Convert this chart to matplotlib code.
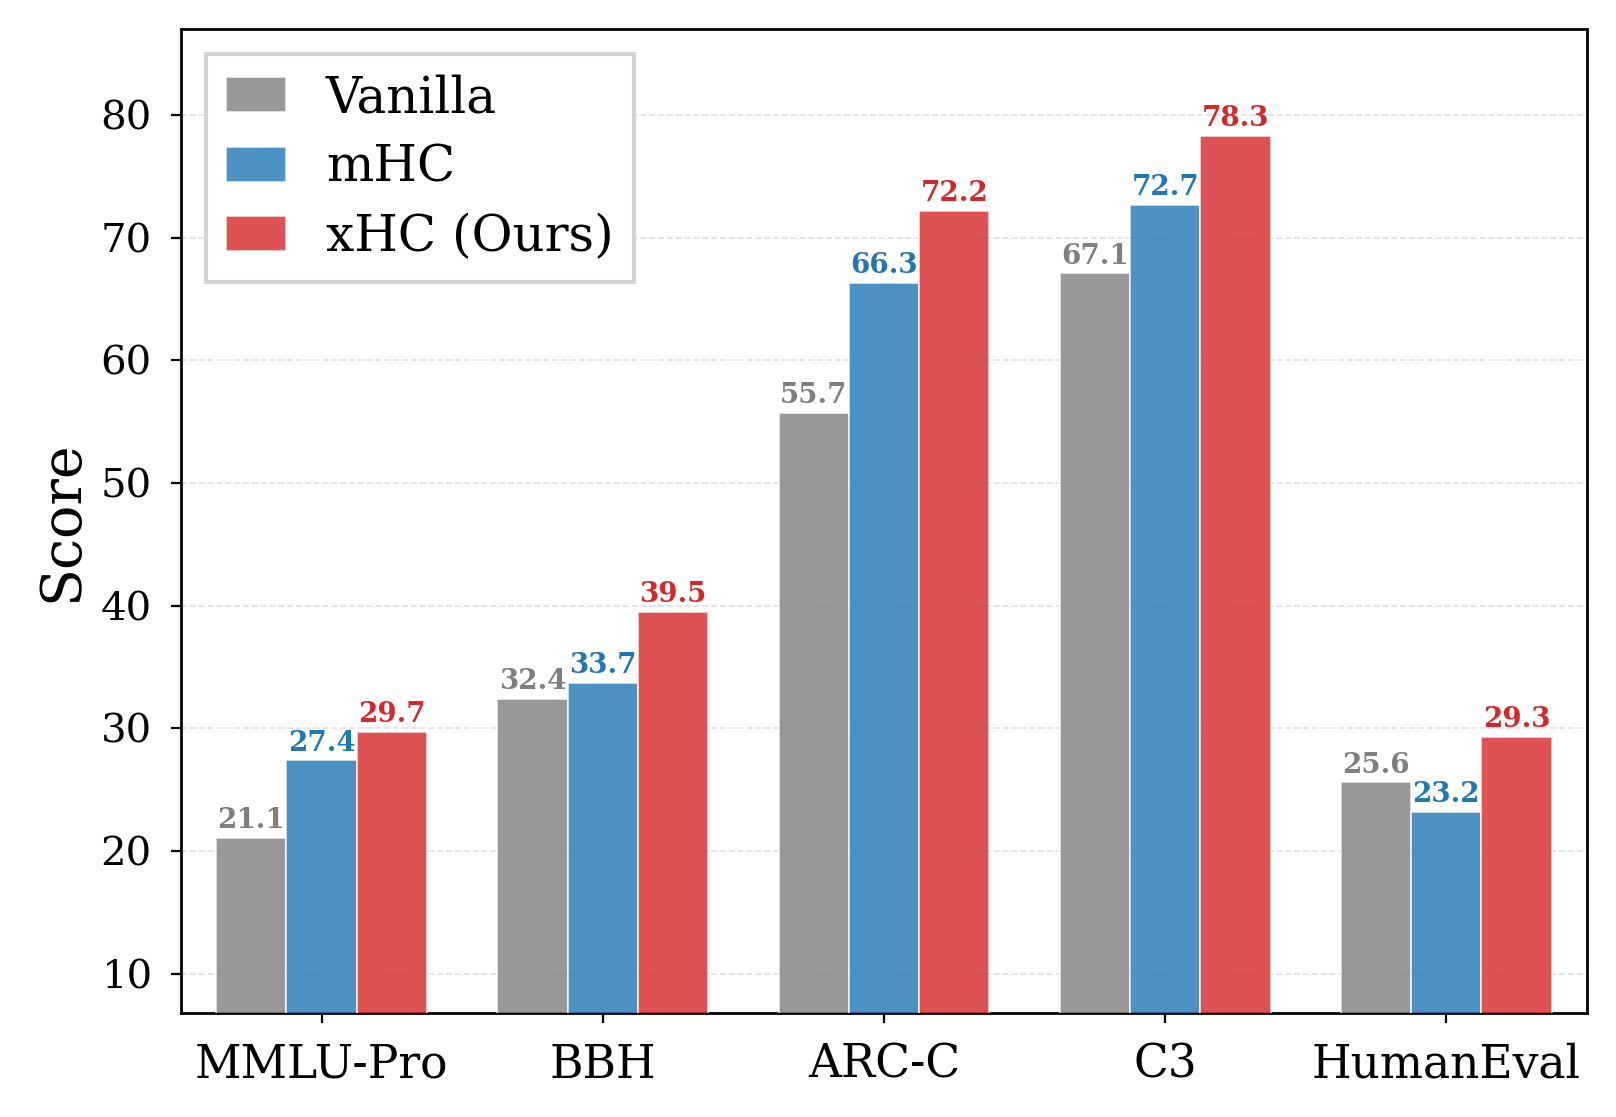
import numpy as np
import matplotlib.pyplot as plt

# 数据
categories = ['MMLU-Pro', 'BBH', 'ARC-C', 'C3', 'HumanEval']
vanilla = [21.1, 32.4, 55.7, 67.1, 25.6]
mhc = [27.4, 33.7, 66.3, 72.7, 23.2]
xhc = [29.7, 39.5, 72.2, 78.3, 29.3]

series = [('Vanilla', vanilla, '#7f7f7f', 0.8),
          ('mHC', mhc, '#1f77b4', 0.8),
          ('xHC (Ours)', xhc, '#d62728', 0.8)]

plt.rcParams['font.family'] = 'DejaVu Serif'

fig, ax = plt.subplots(figsize=(8.08, 5.585), dpi=200)
fig.subplots_adjust(left=0.112, right=0.982, top=0.974, bottom=0.093)

x = np.arange(len(categories))
width = 0.25
for i, (name, vals, color, alpha) in enumerate(series):
    pos = x + (i - 1) * width
    ax.bar(pos, vals, width, label=name, color=color, alpha=alpha,
           edgecolor='white', linewidth=0.6, zorder=3)
    for px, v in zip(pos, vals):
        ax.text(px, v + 0.3, f'{v:.1f}', ha='center', va='bottom',
                fontsize=10, fontweight='bold', color=color, zorder=4)

ax.set_xticks(x)
ax.set_xticklabels(categories, fontsize=16.4)
ax.set_yticks(range(10, 81, 10))
ax.tick_params(axis='y', labelsize=14.5, pad=7)
ax.tick_params(axis='x', pad=7)
ax.set_ylabel('Score', fontsize=20)
ax.set_xlim(-0.5, 4.5)
ax.set_ylim(6.8, 87)
ax.grid(axis='y', linestyle='--', color='lightgray', alpha=0.7, linewidth=0.6, zorder=0)
for s in ax.spines.values():
    s.set_linewidth(1.0)

leg = ax.legend(loc='upper left', fontsize=18, fancybox=False, framealpha=1,
                edgecolor='lightgray', handlelength=1.2, labelspacing=0.4)
leg.get_frame().set_linewidth(1.5)

plt.savefig('out.png', dpi=200)
plt.close()
